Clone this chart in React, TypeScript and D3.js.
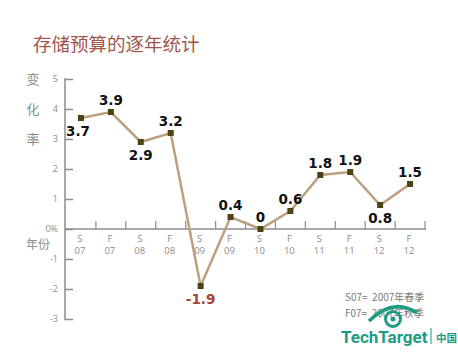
import { useEffect, useRef } from "react";
import * as d3 from "d3";

const categories = ["S07", "F07", "S08", "F08", "S09", "F09", "S10", "F10", "S11", "F11", "S12", "F12"];
const values = [3.7, 3.9, 2.9, 3.2, -1.9, 0.4, 0, 0.6, 1.8, 1.9, 0.8, 1.5];
const yTicks = [5, 4, 3, 2, 1, 0, -1, -2, -3];
const yTitle = ["变", "化", "率"];
const legendLines = ["S07=  2007年春季", "F07=  2007年秋季"];

export default function App() {
  const svgRef = useRef<SVGSVGElement>(null);

  useEffect(() => {
    const root = d3.select(svgRef.current);
    root.selectAll("*").remove();

    const W = 458, H = 352;
    const svg = root.attr("width", W).attr("height", H);
    const gray = "#8c8c8c";
    const labelFont = "'DejaVu Sans', sans-serif";
    const cjk = "'Noto Sans CJK SC', sans-serif";

    svg.append("rect").attr("width", W).attr("height", H).attr("fill", "#fff");

    // title
    svg.append("text")
      .attr("x", 33).attr("y", 51)
      .attr("font-family", cjk).attr("font-size", 18.5)
      .attr("fill", "#a2554d")
      .text("存储预算的逐年统计");

    const x = d3.scaleBand().domain(categories).range([66, 425]);
    const y = d3.scaleLinear().domain([-3, 5]).range([319, 79]);

    // y axis
    const yAxis = svg.append("g").attr("transform", "translate(65,0)")
      .call(d3.axisRight(y).tickValues(yTicks).tickSize(8).tickFormat(() => ""));
    yAxis.select(".domain").attr("stroke", gray).attr("stroke-width", 1.5).attr("d", `M0,${y(5) - 1}V${y(-3) + 1}`);
    yAxis.selectAll(".tick line").attr("stroke", gray).attr("stroke-width", 1.5);

    svg.append("g").selectAll("text").data(yTicks).enter().append("text")
      .attr("x", 58).attr("y", d => y(d) + 3)
      .attr("text-anchor", "end")
      .attr("font-family", "'Open Sans', sans-serif").attr("font-size", 9)
      .attr("fill", gray)
      .text(d => d === 0 ? "0%" : d);

    svg.append("g").selectAll("text").data(yTitle).enter().append("text")
      .attr("x", 33).attr("y", (d, i) => y(5 - i) + 5)
      .attr("text-anchor", "middle")
      .attr("font-family", cjk).attr("font-size", 13)
      .attr("fill", gray)
      .text(d => d);

    svg.append("text")
      .attr("x", 38).attr("y", 249)
      .attr("text-anchor", "middle")
      .attr("font-family", cjk).attr("font-size", 12)
      .attr("fill", gray)
      .text("年份");

    // x axis
    const x0 = y(0);
    svg.append("line")
      .attr("x1", 65).attr("x2", x.range()[1] + 1)
      .attr("y1", x0).attr("y2", x0)
      .attr("stroke", gray).attr("stroke-width", 1.5);
    svg.append("g").selectAll("line").data(categories).enter().append("line")
      .attr("x1", d => x(d)! + x.bandwidth()).attr("x2", d => x(d)! + x.bandwidth())
      .attr("y1", x0).attr("y2", x0 - 8)
      .attr("stroke", gray).attr("stroke-width", 1.2);

    const xl = svg.append("g").selectAll("g").data(categories).enter().append("g")
      .attr("transform", d => `translate(${x(d)! + x.bandwidth() / 2 - 1},0)`);
    xl.append("text").attr("y", x0 + 13).text(d => d.slice(0, 1));
    xl.append("text").attr("y", x0 + 25).text(d => d.slice(1));
    xl.selectAll("text")
      .attr("text-anchor", "middle")
      .attr("font-family", "'Open Sans', sans-serif").attr("font-size", 9.5)
      .attr("fill", gray);

    // series
    const cx = (i: number) => x(categories[i])! + x.bandwidth() / 2;
    const line = d3.line<number>().x((d, i) => cx(i)).y(d => y(d));
    svg.append("path")
      .datum(values)
      .attr("d", line)
      .attr("fill", "none")
      .attr("stroke", "#bc9f7e")
      .attr("stroke-width", 2.5);

    svg.append("g").selectAll("rect").data(values).enter().append("rect")
      .attr("x", (d, i) => cx(i) - 3).attr("y", d => y(d) - 3)
      .attr("width", 6).attr("height", 6)
      .attr("fill", "#4d4212");

    const below = [0, 2, 4, 10];
    svg.append("g").selectAll("text").data(values).enter().append("text")
      .attr("x", (d, i) => cx(i) + (i === 0 ? -3 : 0))
      .attr("y", (d, i) => below.includes(i) ? y(d) + 18 : y(d) - 7)
      .attr("text-anchor", "middle")
      .attr("font-family", labelFont).attr("font-weight", "bold").attr("font-size", 13.5)
      .attr("fill", d => d < 0 ? "#a3463a" : "#111")
      .text(d => d);

    // legend note
    svg.append("g").selectAll("text").data(legendLines).enter().append("text")
      .attr("x", 345).attr("y", (d, i) => 301 + i * 16)
      .attr("font-family", cjk).attr("font-size", 10)
      .attr("fill", "#7a7a7a")
      .attr("xml:space", "preserve")
      .text(d => d);

    // watermark
    const teal = "#1d9c82";
    const eye = svg.append("g").attr("transform", "translate(393,319)");
    eye.append("path").attr("d", "M-24,2 Q0,-22 24,-6").attr("fill", "none").attr("stroke", teal).attr("stroke-width", 3.5);
    eye.append("circle").attr("r", 7.5).attr("fill", "none").attr("stroke", teal).attr("stroke-width", 3);
    eye.append("circle").attr("r", 2.5).attr("fill", teal);
    svg.append("text")
      .attr("x", 341).attr("y", 343)
      .attr("font-family", "Roboto, sans-serif").attr("font-weight", "bold").attr("font-size", 17)
      .attr("fill", teal)
      .text("TechTarget");
    svg.append("line").attr("x1", 431).attr("x2", 431).attr("y1", 328).attr("y2", 344)
      .attr("stroke", teal).attr("stroke-width", 1);
    svg.append("text")
      .attr("x", 436).attr("y", 342)
      .attr("font-family", cjk).attr("font-weight", "bold").attr("font-size", 10.5)
      .attr("fill", teal)
      .text("中国");
  }, []);

  return <svg ref={svgRef} style={{ position: "absolute", left: 0, top: 0 }}></svg>;
}
